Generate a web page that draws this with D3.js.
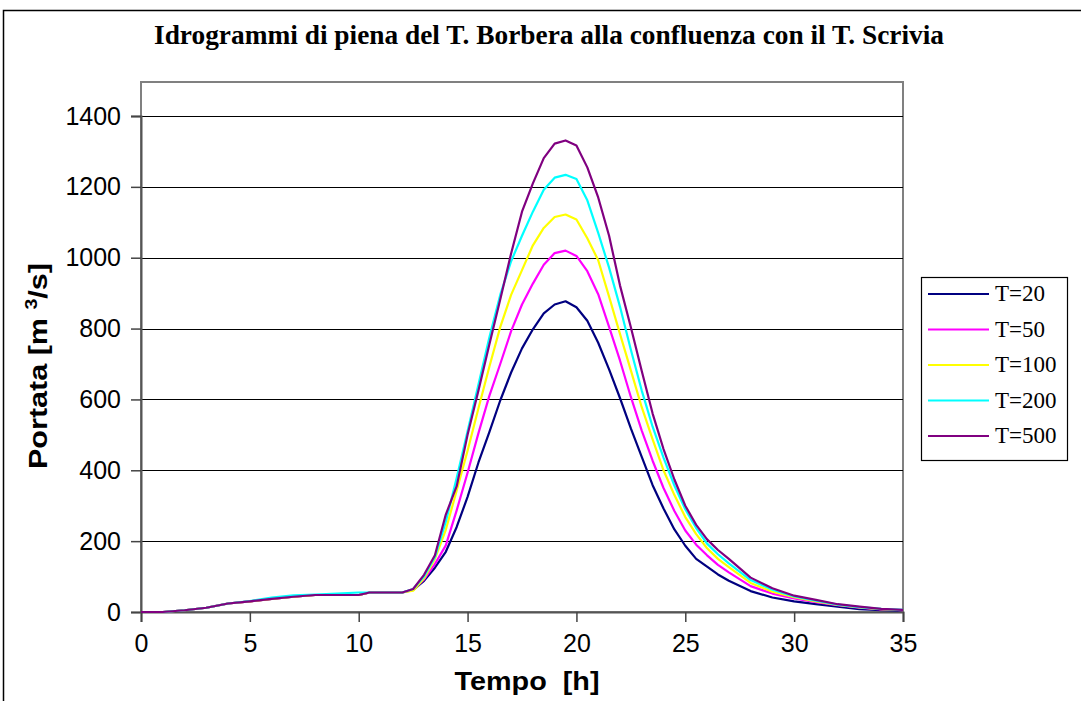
<!DOCTYPE html>
<html>
<head>
<meta charset="utf-8">
<script src="https://cdn.jsdelivr.net/npm/d3@7"></script>
<style>
  body { margin: 0; background: #fff; }
  svg { display: block; }
</style>
</head>
<body>
<div id="chart"></div>
<script>

var width = 1081,
    height = 701;

// time steps [h]
var tempo = [0, 1, 2, 3, 4, 5, 6, 7, 8, 9, 10, 10.5, 11, 12,
  12.5, 13, 13.5, 14, 14.5, 15, 15.5, 16, 16.5, 17, 17.5, 18, 18.5, 19, 19.5,
  20, 20.5, 21, 21.5, 22, 22.5, 23, 23.5, 24, 24.5, 25, 25.5, 26, 26.5, 27,
  28, 29, 30, 31, 32, 33, 34, 35];

// discharge [m3/s] per return period
var q20 = [0, 0, 5, 12, 24, 30, 37, 43, 48, 48, 48, 55, 55, 55,
  62, 88, 125, 170, 240, 325, 422, 508, 597, 676, 744, 798, 843, 868, 877,
  860, 822, 760, 685, 604, 518, 438, 358, 292, 233, 187, 150, 128, 106, 88,
  59, 41, 30, 22, 15, 8, 5, 4];
var q50 = [0, 0, 5, 12, 24, 30, 37, 43, 48, 48, 48, 55, 55, 55,
  63, 92, 135, 188, 287, 393, 505, 610, 700, 793, 868, 927, 980, 1013, 1020,
  1005, 962, 897, 805, 710, 607, 512, 427, 350, 285, 230, 190, 160, 133, 112,
  73, 52, 38, 28, 19, 12, 7, 5];
var q100 = [0, 0, 5, 12, 24, 30, 37, 43, 48, 48, 48, 55, 55, 55,
  60, 95, 150, 232, 343, 455, 575, 692, 804, 895, 965, 1035, 1084, 1115, 1122,
  1108, 1055, 993, 890, 785, 682, 578, 487, 400, 330, 268, 220, 180, 150, 127,
  82, 57, 42, 30, 20, 13, 8, 5];
var q200 = [0, 0, 5, 12, 24, 31, 41, 47, 49, 52, 55, 55, 55, 55,
  65, 100, 155, 255, 378, 510, 642, 775, 895, 990, 1062, 1130, 1192, 1226, 1234,
  1222, 1162, 1070, 972, 862, 740, 625, 523, 436, 357, 290, 237, 193, 163, 137,
  90, 63, 44, 32, 21, 14, 9, 6];
var q500 = [0, 0, 5, 12, 24, 30, 37, 43, 48, 48, 48, 55, 55, 55,
  65, 105, 160, 275, 355, 500, 625, 755, 882, 1012, 1130, 1210, 1281, 1322, 1331,
  1317, 1255, 1170, 1062, 922, 804, 680, 560, 460, 374, 300, 246, 205, 175, 150,
  97, 67, 46, 34, 22, 15, 9, 6];

var seriesNames = ["T=20", "T=50", "T=100", "T=200", "T=500"];
var seriesValues = [q20, q50, q100, q200, q500];
var seriesColors = ["#000080", "#ff00ff", "#ffff00", "#00ffff", "#800080"];

var xTicks = [0, 5, 10, 15, 20, 25, 30, 35];
var yTicks = [0, 200, 400, 600, 800, 1000, 1200, 1400];

var plot = {left: 141, right: 903, top: 82, bottom: 612};

var svg = d3.select("#chart").append("svg")
    .attr("width", width)
    .attr("height", height);

// outer chart frame (runs off the picture right and bottom)
svg.append("rect")
    .attr("x", 3.5).attr("y", 10.5)
    .attr("width", 1200).attr("height", 900)
    .attr("fill", "#fff")
    .attr("stroke", "#000")
    .attr("stroke-width", 1.5);

var x = d3.scaleLinear().domain([0, 35]).range([plot.left, plot.right]);
var y = d3.scaleLinear().domain([0, 1400]).range([plot.bottom, 116]);

// plot area frame
svg.append("rect")
    .attr("x", plot.left).attr("y", plot.top)
    .attr("width", plot.right - plot.left)
    .attr("height", plot.bottom - plot.top)
    .attr("fill", "#fff")
    .attr("stroke", "#808080")
    .attr("stroke-width", 2);

// gridlines
svg.append("g")
  .selectAll("line")
  .data(yTicks.slice(1))
  .enter().append("line")
    .attr("x1", plot.left).attr("x2", plot.right)
    .attr("y1", function(d) { return Math.round(y(d)) + 0.5; })
    .attr("y2", function(d) { return Math.round(y(d)) + 0.5; })
    .attr("stroke", "#000")
    .attr("stroke-width", 1);

// axes
var yAxis = svg.append("g")
    .attr("transform", "translate(" + plot.left + ",0)")
    .call(d3.axisLeft(y).tickValues(yTicks).tickFormat(d3.format("d"))
      .tickSize(10).tickPadding(10));
var xAxis = svg.append("g")
    .attr("transform", "translate(0," + plot.bottom + ")")
    .call(d3.axisBottom(x).tickValues(xTicks).tickFormat(d3.format("d"))
      .tickSize(10).tickPadding(12));

[yAxis, xAxis].forEach(function(ax) {
  ax.select(".domain").attr("stroke", "#555").attr("stroke-width", 2);
  ax.selectAll(".tick line").attr("stroke", "#444").attr("stroke-width", 1.5);
  ax.selectAll("text")
    .attr("font-family", "Arial, 'Liberation Sans', sans-serif")
    .attr("font-size", 25)
    .attr("fill", "#000");
});

// series lines
var line = d3.line()
    .x(function(d, i) { return x(tempo[i]); })
    .y(function(d) { return y(d); });

svg.append("g")
  .selectAll("path")
  .data(seriesValues)
  .enter().append("path")
    .attr("d", line)
    .attr("fill", "none")
    .attr("stroke", function(d, i) { return seriesColors[i]; })
    .attr("stroke-width", 2.2)
    .attr("stroke-linejoin", "round");

// title
svg.append("text")
    .attr("x", 549).attr("y", 44)
    .attr("text-anchor", "middle")
    .attr("font-family", "'Liberation Serif', 'Times New Roman', serif")
    .attr("font-weight", "bold")
    .attr("font-size", 27)
    .attr("textLength", 790)
    .attr("lengthAdjust", "spacingAndGlyphs")
    .text("Idrogrammi di piena del T. Borbera alla confluenza con il T. Scrivia");

// axis titles
svg.append("text")
    .attr("x", 527).attr("y", 690)
    .attr("text-anchor", "middle")
    .attr("font-family", "Arial, 'Liberation Sans', sans-serif")
    .attr("font-weight", "bold")
    .attr("font-size", 25)
    .attr("textLength", 145)
    .attr("lengthAdjust", "spacingAndGlyphs")
    .style("white-space", "pre")
    .text("Tempo  [h]");

var yl = svg.append("text")
    .attr("transform", "translate(47,366) rotate(-90)")
    .attr("text-anchor", "middle")
    .attr("font-family", "Arial, 'Liberation Sans', sans-serif")
    .attr("font-weight", "bold")
    .attr("font-size", 25)
    .attr("textLength", 206)
    .attr("lengthAdjust", "spacingAndGlyphs")
    .style("white-space", "pre");
yl.append("tspan").text("Portata [m ");
yl.append("tspan").attr("dy", -10).attr("font-size", 16).text("3");
yl.append("tspan").attr("dy", 10).text("/s]");

// legend
var legend = svg.append("g");
legend.append("rect")
    .attr("x", 921.5).attr("y", 277.5)
    .attr("width", 146).attr("height", 183)
    .attr("fill", "#fff")
    .attr("stroke", "#000")
    .attr("stroke-width", 1.2);

var item = legend.selectAll("g.item")
  .data(seriesNames)
  .enter().append("g")
    .attr("class", "item")
    .attr("transform", function(d, i) { return "translate(0," + (294 + i * 35.5) + ")"; });

item.append("line")
    .attr("x1", 928).attr("x2", 989)
    .attr("stroke", function(d, i) { return seriesColors[i]; })
    .attr("stroke-width", 2.2);

item.append("text")
    .attr("x", 995).attr("y", 7)
    .attr("font-family", "'Liberation Serif', 'Times New Roman', serif")
    .attr("font-size", 23)
    .text(function(d) { return d; });

</script>
</body>
</html>
